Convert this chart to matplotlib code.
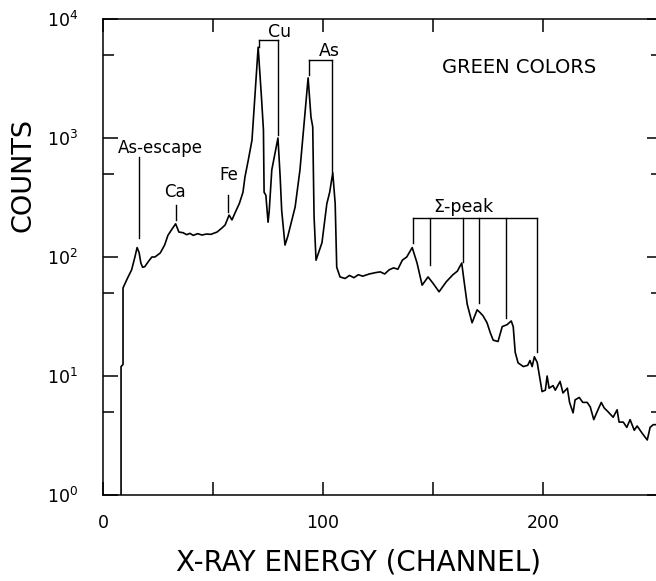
import numpy as np
import matplotlib
matplotlib.use("Agg")
import matplotlib.pyplot as plt
from matplotlib.ticker import LogLocator, FixedLocator, NullFormatter

# spectrum (channel, counts)
channel = [8.2, 8.2, 9.1, 9.1, 10.9, 13, 14.5, 15.5, 16.4, 17.2, 18, 19, 20.5, 22.2,
           23.6, 26, 28, 29.5, 31.2, 33, 34.5, 36.4, 38, 39.5, 41, 43, 45, 47, 49,
           51.8, 54, 55.5, 57.3, 58.6, 60, 62, 63.6, 64.5, 66, 67.7, 69, 70.5, 72,
           72.9, 73.2, 74, 75, 75.5, 76.7, 77.8, 79.5, 80.5, 81.2, 82.7, 84, 85,
           87.3, 89.5, 91.8, 93.2, 94.5, 95.3, 95.9, 96.8, 99.5, 101.7, 103, 104.4,
           105.5, 106.2, 107.7, 110, 112, 114, 116, 118, 121, 124, 126, 128, 130,
           132, 134, 136, 138, 140.5, 142.7, 145, 147.7, 150, 152.7, 156, 159, 161,
           163, 164, 165.5, 167.7, 170, 171.4, 172.7, 174.5, 176, 177.3, 179.5,
           181.4, 183.6, 185.5, 186.4, 187.3, 188.6, 191, 193, 194, 195, 196, 197.3,
           198.6, 199.5, 201, 201.8, 202.7, 204.5, 205.5, 207.7, 209, 211, 212,
           213.6, 214.5, 216.4, 218, 220, 221.4, 223, 224.5, 226.4, 227.7, 229.5,
           231.8, 233.6, 234.5, 236.4, 238, 239.5, 241.4, 242.7, 245, 247.3, 248.6,
           250, 253]
counts = [1.0, 12, 12.5, 55, 65, 78, 100, 120, 109, 89, 82, 83, 91, 100,
          100, 108, 126, 152, 170, 190, 162, 160, 154, 158, 152, 157, 153, 156, 155,
          162, 175, 186, 225, 205, 235, 283, 350, 470, 650, 960, 2200, 5800, 2200,
          1170, 350, 330, 196, 240, 540, 690, 1000, 470, 245, 126, 150, 178,
          263, 540, 1620, 3200, 1500, 1240, 220, 94, 132, 280, 350, 510,
          280, 82, 68, 66, 70, 67, 71, 69, 72, 74, 75, 72, 78,
          81, 79, 94, 100, 120, 89, 58, 68, 60, 51, 62, 71, 76,
          89, 64, 40, 28, 36, 34, 32, 28, 23, 20, 19.5,
          26, 27, 29, 26, 15.8, 12.9, 12, 12.3, 13.5, 12, 14.5, 13,
          9.3, 7.4, 7.6, 10, 7.9, 8.3, 7.6, 9.0, 7.2, 7.9, 6.0,
          4.9, 6.3, 6.6, 6.0, 6.0, 5.5, 4.3, 5.0, 6.0, 5.4, 5.0,
          4.5, 5.2, 4.1, 4.1, 3.7, 4.3, 3.5, 3.8, 3.3, 2.9, 3.7,
          3.9, 3.9]

# single line markers: (channel, top, bottom, label, label_x, label_y)
markers = [(16.4, 690, 145, "As-escape", 26, 830),
           (33, 275, 205, "Ca", 32.7, 355),
           (57, 333, 240, "Fe", 57, 490)]

# bracket markers
cu_x = [71, 79.5]
cu_ends = [5800, 1070]
as_x = [93.6, 104]
as_ends = [3400, 515]
sum_x = [141, 148.6, 163.6, 171, 183, 197]
sum_ends = [132, 86, 91, 41, 31, 15.9]

fig = plt.figure(figsize=(6.56, 5.81), dpi=100)
ax = fig.add_axes([103/656, 86/581, 559/656, 476/581])

ax.plot(channel, counts, color="black", lw=1.2)
ax.set_yscale("log")
ax.set_xlim(0, 254)
ax.set_ylim(1, 1e4)

for x, top, bot, lab, lx, ly in markers:
    ax.plot([x, x], [top, bot], color="black", lw=1.0)
    ax.text(lx, ly, lab, ha="center", va="center", fontsize=12)

def bracket(xs, ends, level):
    ax.plot([xs[0], xs[-1]], [level, level], color="black", lw=1.0)
    for x, e in zip(xs, ends):
        ax.plot([x, x], [level, e], color="black", lw=1.0)

bracket(cu_x, cu_ends, 6650)
ax.text(80.4, 7800, "Cu", ha="center", va="center", fontsize=12.5)
bracket(as_x, as_ends, 4520)
ax.text(103, 5370, "As", ha="center", va="center", fontsize=12.5)
bracket(sum_x, sum_ends, 213)
ax.text(163.6, 263, "Σ-peak", ha="center", va="center", fontsize=12.5)

ax.text(189, 3880, "GREEN COLORS", ha="center", va="center", fontsize=14)

ax.xaxis.set_major_locator(FixedLocator([0, 100, 200]))
ax.xaxis.set_minor_locator(FixedLocator([50, 150]))
ax.yaxis.set_major_locator(LogLocator(base=10))
ax.yaxis.set_minor_locator(LogLocator(base=10, subs=[5]))
ax.yaxis.set_minor_formatter(NullFormatter())

ax.tick_params(axis="x", which="both", direction="in", top=True, length=9.5,
               width=1.1, labelsize=12.5, pad=14)
ax.tick_params(axis="y", which="major", direction="in", right=True, length=11,
               width=1.1, labelsize=12.5, pad=18)
ax.tick_params(axis="y", which="minor", direction="in", right=True, length=8,
               width=1.1)
for s in ax.spines.values():
    s.set_linewidth(1.1)

fig.text(23/656, 1 - 175/581, "COUNTS", rotation=90, ha="center", va="center",
         fontsize=19.5)
fig.text(358/656, 1 - 563/581, "X-RAY ENERGY (CHANNEL)", ha="center", va="center",
         fontsize=20)

fig.savefig("out.png", dpi=100)
